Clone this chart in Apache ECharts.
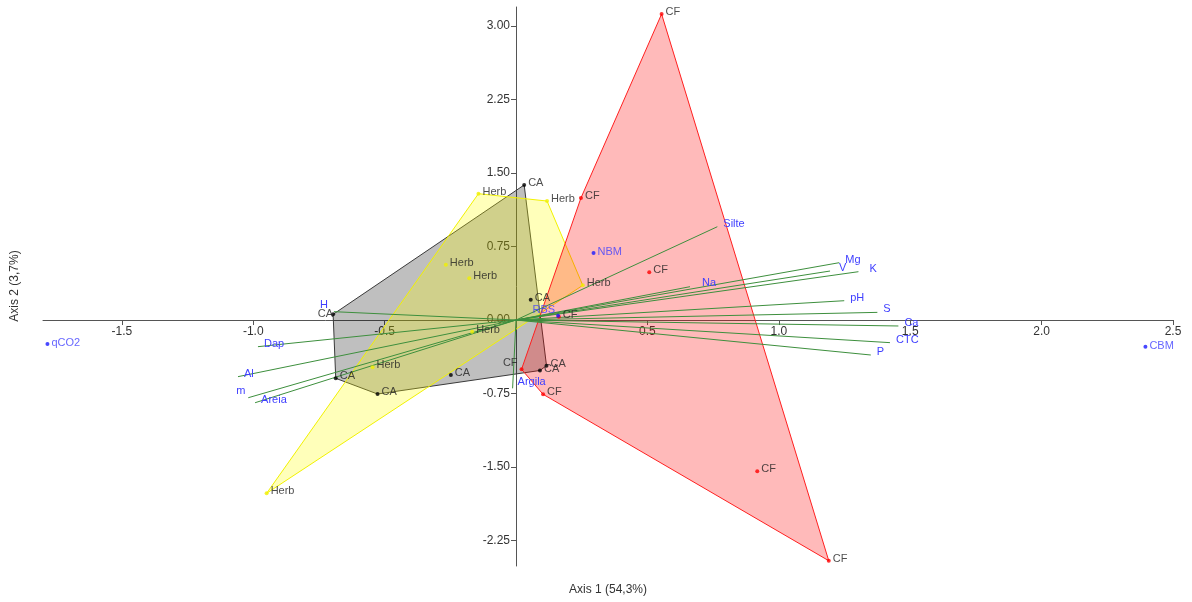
<!DOCTYPE html>
<html><head><meta charset="utf-8">
<script src="https://cdn.jsdelivr.net/npm/echarts@6/dist/echarts.min.js"></script>
<style>html,body{margin:0;padding:0;background:#fff}#c{width:1192px;height:602px}</style>
</head><body><div id="c"></div>
<script>
// ---- data ----
const caX = [0.031, 0.056, 0.116, 0.091, -0.248, -0.696, -0.686, -0.527];
const caY = [1.378, 0.207, -0.466, -0.515, -0.561, 0.058, -0.595, -0.755];
const herbX = [-0.143, 0.118, -0.267, -0.178, 0.254, -0.167, -0.546, -0.949];
const herbY = [1.289, 1.214, 0.564, 0.425, 0.354, -0.119, -0.483, -1.768];
const cfX = [0.554, 0.247, 0.507, 0.163, 0.021, 0.103, 0.918, 1.190];
const cfY = [3.122, 1.245, 0.487, 0.033, -0.503, -0.758, -1.544, -2.456];
const varNames = ['H', 'Dap', 'Al', 'm', 'Areia', 'Silte', 'Mg', 'V', 'K', 'Na', 'pH', 'S', 'Ca', 'CTC', 'P', 'Argila'];
const varX = [-0.693, -0.982, -1.058, -1.019, -0.993, 0.766, 1.230, 1.195, 1.303, 0.662, 1.249, 1.375, 1.455, 1.423, 1.350, -0.013];
const varY = [0.085, -0.272, -0.578, -0.793, -0.844, 0.952, 0.585, 0.500, 0.493, 0.340, 0.197, 0.078, -0.061, -0.231, -0.357, -0.697];
const suppNames = ['qCO2', 'CBM', 'NBM', 'RBS'];
const suppX = [-1.783, 2.395, 0.295, 0.160];
const suppY = [-0.245, -0.272, 0.684, 0.044];
const xTicks = [-1.5, -1.0, -0.5, 0.5, 1.0, 1.5, 2.0, 2.5];
const yTicks = [-2.25, -1.5, -0.75, 0, 0.75, 1.5, 2.25, 3.0];
const xTitle = 'Axis 1 (54,3%)';
const yTitle = 'Axis 2 (3,7%)';

// ---- layout / styling ----
const FONT = 'Arial, "Liberation Sans", sans-serif';
const W = 1192, H = 602;
const G = { left: 43, right: 19, top: 7, bottom: 36 };
const X_MIN = -1.8, X_MAX = 2.5, Y_MIN = -2.51, Y_MAX = 3.194;
// shift the axes so that they cross at the origin (labels and ticks follow)
const gw = W - G.left - G.right, gh = H - G.top - G.bottom;
const xAxisShift = -(gh * (0 - Y_MIN) / (Y_MAX - Y_MIN));
const yAxisShift = -(gw * (0 - X_MIN) / (X_MAX - X_MIN));
const vecLabelOffset = { H: [-14, -7], m: [-12, -7], V: [9, -3], K: [11, -3], Na: [12, -4], Argila: [5, -6] };

function hull(pts) {
  pts = pts.slice().sort((a, b) => a[0] - b[0] || a[1] - b[1]);
  const cross = (o, a, b) => (a[0] - o[0]) * (b[1] - o[1]) - (a[1] - o[1]) * (b[0] - o[0]);
  const lower = [];
  for (const p of pts) { while (lower.length >= 2 && cross(lower[lower.length - 2], lower[lower.length - 1], p) <= 0) lower.pop(); lower.push(p); }
  const upper = [];
  for (let i = pts.length - 1; i >= 0; i--) { const p = pts[i]; while (upper.length >= 2 && cross(upper[upper.length - 2], upper[upper.length - 1], p) <= 0) upper.pop(); upper.push(p); }
  upper.pop(); lower.pop();
  return lower.concat(upper);
}

function hullSeries(xs, ys, fill, stroke) {
  const h = hull(xs.map((x, i) => [x, ys[i]]));
  return {
    type: 'custom', coordinateSystem: 'cartesian2d', silent: true, z: 1,
    data: [[xs[0], ys[0]]],
    renderItem: (params, api) => ({
      type: 'polygon',
      shape: { points: h.map(p => api.coord(p)) },
      style: { fill: fill, stroke: stroke, lineWidth: 1 }
    })
  };
}

function groupSeries(name, xs, ys, color, overrides) {
  return {
    type: 'scatter', z: 5, symbolSize: 4, silent: true,
    itemStyle: { color: color },
    label: { show: true, formatter: name, position: 'right', distance: 2, offset: [0, -2], color: '#222', fontSize: 11, fontFamily: FONT },
    data: xs.map((x, i) => {
      const d = { value: [x, ys[i]] };
      if (overrides[i]) d.label = overrides[i];
      return d;
    })
  };
}

const option = {
  animation: false,
  backgroundColor: '#fff',
  grid: { left: G.left, right: G.right, top: G.top, bottom: G.bottom },
  xAxis: {
    type: 'value', min: X_MIN, max: X_MAX, position: 'bottom', offset: xAxisShift,
    splitLine: { show: false },
    axisLine: { onZero: false, lineStyle: { color: '#555', width: 1 } },
    axisTick: { show: true, customValues: xTicks, length: 5, lineStyle: { color: '#555' } },
    axisLabel: { customValues: xTicks, formatter: v => v.toFixed(1), color: '#333', fontSize: 12, margin: 6, fontFamily: FONT }
  },
  yAxis: {
    type: 'value', min: Y_MIN, max: Y_MAX, position: 'left', offset: yAxisShift,
    splitLine: { show: false },
    axisLine: { onZero: false, lineStyle: { color: '#555', width: 1 } },
    axisTick: { show: true, customValues: yTicks, length: 5, lineStyle: { color: '#555' } },
    axisLabel: { customValues: yTicks, formatter: v => v.toFixed(2), color: '#333', fontSize: 12, margin: 6, fontFamily: FONT }
  },
  graphic: [
    { type: 'text', x: 608, y: 590, style: { text: xTitle, align: 'center', verticalAlign: 'middle', fontSize: 12, fontFamily: FONT, fill: '#333' } },
    { type: 'text', x: 15, y: 286, rotation: Math.PI / 2, style: { text: yTitle, align: 'center', verticalAlign: 'middle', fontSize: 12, fontFamily: FONT, fill: '#333' } }
  ],
  series: [
    hullSeries(caX, caY, 'rgba(0,0,0,0.25)', '#3a3a3a'),
    hullSeries(herbX, herbY, 'rgba(255,255,0,0.27)', '#f2f200'),
    hullSeries(cfX, cfY, 'rgba(255,0,0,0.27)', '#ff2020'),
    {
      type: 'custom', coordinateSystem: 'cartesian2d', silent: true, z: 3,
      data: varX.map((x, i) => [x, varY[i]]),
      renderItem: (params, api) => {
        const o = api.coord([0, 0]);
        const e = api.coord([api.value(0), api.value(1)]);
        const name = varNames[params.dataIndex];
        const off = vecLabelOffset[name] || [6, -3];
        return {
          type: 'group', children: [
            { type: 'line', shape: { x1: o[0], y1: o[1], x2: e[0], y2: e[1] }, style: { stroke: '#3d8f3d', lineWidth: 1 } },
            { type: 'text', x: e[0] + off[0], y: e[1] + off[1], style: { text: name, fill: '#4040ff', fontSize: 11, fontFamily: FONT, align: 'left', verticalAlign: 'middle' } }
          ]
        };
      }
    },
    groupSeries('CA', caX, caY, '#000', { 5: { position: 'left', distance: 0, offset: [2, 0] } }),
    groupSeries('Herb', herbX, herbY, '#f0f000', {}),
    groupSeries('CF', cfX, cfY, '#ff0000', { 4: { position: 'left', distance: 2, offset: [0, -6] } }),
    {
      type: 'scatter', z: 6, symbolSize: 4, silent: true,
      itemStyle: { color: '#1a1aff' },
      label: { show: true, position: 'right', distance: 2, offset: [0, -1], color: '#4040ff', fontSize: 11, fontFamily: FONT, formatter: p => suppNames[p.dataIndex] },
      data: suppX.map((x, i) => {
        const d = { value: [x, suppY[i]] };
        if (suppNames[i] === 'RBS') d.label = { position: 'left', distance: 1, offset: [0, -6] };
        return d;
      })
    }
  ]
};
const chart = echarts.init(document.getElementById('c'), null, { renderer: 'canvas' });
chart.setOption(option);
</script>
</body></html>
